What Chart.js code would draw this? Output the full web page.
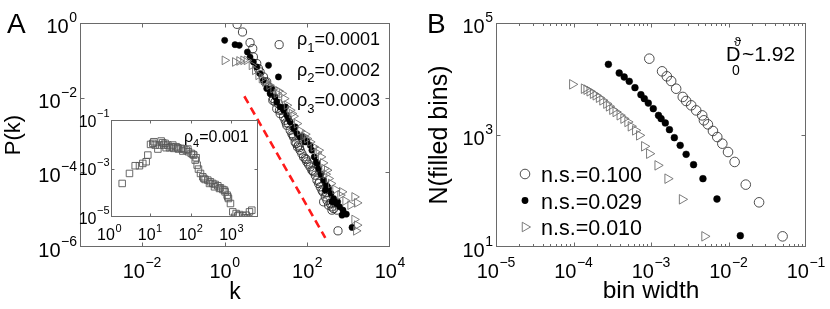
<!DOCTYPE html>
<html><head><meta charset="utf-8">
<script src="https://cdn.jsdelivr.net/npm/chart.js@4.4.1/dist/chart.umd.min.js"></script>
<style>
html,body{margin:0;padding:0;background:#fff;}
#wrap{position:relative;width:830px;height:309px;overflow:hidden;background:#fff;}
canvas{position:absolute;left:0;top:0;}
</style></head><body>
<div id="wrap">
<canvas id="cA" width="830" height="309"></canvas>
<canvas id="cI" width="830" height="309"></canvas>
<canvas id="cB" width="830" height="309"></canvas>
</div>
<script>
// ---------------- Panel A : degree distribution P(k) ----------------
const rho1K = [2, 2.7, 4.11, 4.78, 4.95, 5.97, 6.55, 7.19, 8.67, 9.51, 10.4, 11.5, 13.8, 15.1, 16.6, 18.2, 20.0, 22.0, 24.1, 26.5, 29.0, 31.9, 35.0, 38.5, 42.2, 46.3, 50.8, 53.7, 57.9, 61.2, 67.1, 73.8, 80.9, 88.9, 97.5, 107, 117, 129, 142, 156, 171, 188, 206, 226, 239, 248, 272, 299, 327, 360, 394, 434, 521, 20.8, 552, 14.6, 21.2, 30.8, 44.7, 64.7, 94.0, 136, 198, 288, 394];
const rho1P = [0.920, 0.574, 0.298, 0.206, 0.123, 0.0817, 0.0600, 0.0489, 0.0359, 0.0264, 0.0264, 0.0194, 0.0129, 0.00944, 0.00769, 0.00509, 0.00693, 0.00375, 0.00460, 0.00305, 0.00248, 0.00182, 0.00202, 0.00134, 0.00109, 8.89e-4, 6.53e-4, 5.90e-4, 4.81e-4, 5.32e-4, 3.91e-4, 3.18e-4, 2.59e-4, 2.34e-4, 1.91e-4, 1.65e-4, 1.40e-4, 1.14e-4, 1.03e-4, 8.38e-5, 6.15e-5, 5.01e-5, 4.08e-5, 3.33e-5, 3.00e-5, 1.62e-5, 2.20e-5, 1.79e-5, 1.32e-5, 1.46e-5, 9.71e-6, 1.07e-5, 9.71e-6, 0.263, 2.71e-6, 0.00851, 0.00460, 0.00211, 9.86e-4, 4.61e-4, 2.20e-4, 1.09e-4, 5.56e-5, 2.82e-5, 1.19e-5];
const rho2K = [1.0, 1.78, 2.26, 3.54, 4.11, 4.95, 11.5, 20.0, 5.97, 7.19, 8.67, 10.4, 12.6, 16.6, 18.2, 22.0, 26.5, 31.9, 35.0, 38.5, 46.3, 55.8, 67.1, 80.9, 88.9, 97.5, 117, 129, 147, 171, 188, 213, 248, 272, 288, 327, 373, 394, 434, 502, 605, 690, 730, 879, 1205, 13.8, 29.6, 50.8, 75.2, 164, 310, 542];
const rho2P = [0.344, 0.263, 0.252, 0.167, 0.123, 0.0904, 0.0736, 0.0359, 0.0664, 0.0441, 0.0292, 0.0175, 0.0129, 0.0105, 0.00769, 0.00565, 0.00460, 0.00338, 0.00275, 0.00224, 0.00149, 0.00109, 8.89e-4, 8.04e-4, 6.53e-4, 6.95e-4, 5.32e-4, 3.91e-4, 2.59e-4, 1.72e-4, 1.26e-4, 8.91e-5, 6.15e-5, 3.33e-5, 4.53e-5, 3.68e-5, 2.71e-5, 1.62e-5, 1.99e-5, 1.46e-5, 1.19e-5, 7.13e-6, 9.71e-6, 7.59e-6, 3.34e-6, 0.0175, 0.00565, 0.00165, 9.27e-4, 1.91e-4, 4.08e-5, 1.62e-5];
const rho3K = [1.0, 1.78, 2.26, 2.83, 3.41, 4.51, 5.43, 6.55, 7.89, 9.51, 12.1, 15.1, 20.0, 24.1, 27.5, 31.9, 38.5, 46.3, 55.8, 67.1, 80.9, 97.5, 117, 142, 171, 213, 239, 257, 277, 327, 373, 475, 628, 832, 1099, 1374, 1596, 1374, 1596, 1510, 18.2, 42.2, 88.9, 188, 299, 690];
const rho3P = [0.100, 0.0904, 0.0962, 0.100, 0.100, 0.0736, 0.0541, 0.0397, 0.0324, 0.0264, 0.0215, 0.0175, 0.0151, 0.0129, 0.00944, 0.00627, 0.00460, 0.00318, 0.00202, 0.00129, 9.27e-4, 8.04e-4, 6.53e-4, 4.81e-4, 3.32e-4, 2.59e-4, 1.79e-4, 1.26e-4, 8.91e-5, 6.82e-5, 5.01e-5, 3.47e-5, 2.44e-5, 1.72e-5, 1.32e-5, 2.20e-5, 1.52e-5, 5.46e-6, 3.85e-6, 2.71e-6, 0.0129, 0.00375, 0.00105, 3.91e-4, 1.14e-4, 3.00e-5];
const refK = [2.99, 272];
const refP = [0.0109, 1.76e-6];
// inset (rho4)
const rho4K = [2.07, 3.13, 4.32, 5.51, 6.65, 8.04, 8.83, 10.3, 11.7, 12.4, 13.4, 15.6, 17.1, 18.8, 20.6, 21.8, 23.5, 24.9, 27.4, 30.1, 33.0, 36.3, 38.4, 43.9, 48.2, 50.1, 58.2, 64.0, 67.6, 77.3, 84.9, 88.1, 103, 113, 119, 129, 136, 144, 155, 174, 198, 210, 226, 263, 289, 305, 349, 384, 398, 463, 509, 538, 615, 676, 701, 785, 817, 847, 948, 1081, 1306, 1436, 1578, 1905, 2094, 2301, 2529, 2780, 3170];
const rho4P = [2.42e-4, 6.25e-4, 1.30e-3, 1.30e-3, 1.62e-3, 1.90e-3, 3.58e-3, 9.86e-3, 1.09e-2, 1.27e-2, 9.27e-3, 6.34e-3, 9.27e-3, 1.36e-2, 1.16e-2, 9.27e-3, 1.09e-2, 7.19e-3, 9.27e-3, 7.19e-3, 7.91e-3, 9.27e-3, 6.75e-3, 7.91e-3, 7.19e-3, 6.34e-3, 6.75e-3, 5.24e-3, 6.34e-3, 5.75e-3, 6.34e-3, 4.91e-3, 4.20e-3, 3.81e-3, 3.58e-3, 2.22e-3, 2.78e-3, 1.38e-3, 9.44e-4, 6.25e-4, 4.55e-4, 3.89e-4, 3.53e-4, 3.32e-4, 2.42e-4, 2.83e-4, 2.42e-4, 1.76e-4, 2.20e-4, 1.94e-4, 1.50e-4, 1.60e-4, 1.36e-4, 1.28e-4, 1.09e-4, 7.96e-5, 6.79e-5, 5.79e-5, 3.60e-5, 1.63e-5, 1.39e-5, 1.11e-5, 1.26e-5, 1.11e-5, 9.20e-6, 1.19e-5, 9.20e-6, 1.63e-5, 1.91e-5];
const rhoSubs = ['1', '2', '3'];
const rhoVals = ['0.0001', '0.0002', '0.0003'];
const insetSub = '4', insetVal = '0.001';
const ticksAX = [1e-2, 1, 1e2, 1e4];
const ticksAY = [1e-6, 1e-4, 1e-2, 1];
const ticksIX = [1, 10, 100, 1000];
const ticksIY = [1e-5, 1e-3, 1e-1];

// ---------------- Panel B : box counting ----------------
const ns100W = [9.51e-4, 1.39e-3, 1.60e-3, 1.82e-3, 2.11e-3, 2.57e-3, 2.84e-3, 3.30e-3, 3.83e-3, 4.58e-3, 4.82e-3, 5.42e-3, 6.30e-3, 7.16e-3, 8.32e-3, 9.86e-3, 1.20e-2, 1.67e-2, 2.48e-2, 4.99e-2];
const ns100N = [23070, 13710, 11170, 9200, 6710, 4780, 4050, 3390, 2750, 2240, 1830, 1550, 1180, 920, 700, 497, 330, 130, 62.8, 15.5];
const ns029W = [2.82e-4, 3.89e-4, 4.51e-4, 5.24e-4, 6.21e-4, 7.41e-4, 8.20e-4, 9.23e-4, 1.07e-3, 1.25e-3, 1.35e-3, 1.53e-3, 1.73e-3, 2.00e-3, 2.38e-3, 2.84e-3, 3.54e-3, 4.68e-3, 7.10e-3, 1.42e-2];
const ns029N = [18280, 12790, 10860, 9080, 7000, 5250, 4460, 3720, 2950, 2240, 1960, 1640, 1245, 895, 653, 452, 295, 166, 71.9, 15.9];
const ns010W = [9.66e-5, 1.37e-4, 1.48e-4, 1.62e-4, 1.79e-4, 1.94e-4, 2.14e-4, 2.37e-4, 2.66e-4, 2.88e-4, 3.18e-4, 3.51e-4, 3.96e-4, 4.43e-4, 4.99e-4, 5.51e-4, 6.27e-4, 7.06e-4, 8.20e-4, 9.51e-4, 1.22e-3, 1.64e-3, 2.52e-3, 4.91e-3];
const ns010N = [8030, 6720, 6450, 6030, 5470, 5110, 4640, 4160, 3630, 3250, 2830, 2580, 2250, 1960, 1710, 1430, 1210, 986, 628, 464, 287, 166, 71, 15.5];
const nsLabels = ['n.s.=0.100', 'n.s.=0.029', 'n.s.=0.010'];
const dimLabel = '~1.92';
const ticksBX = [1e-5, 1e-4, 1e-3, 1e-2, 1e-1];
const ticksBY = [1e1, 1e3, 1e5];
const minorBX = [];
for (let e = -5; e < -1; e++) for (let m = 2; m <= 9; m++) minorBX.push(m * Math.pow(10, e));

// ---------------- helpers ----------------
const FONT = "'Liberation Sans', Arial, Helvetica, sans-serif";
const fnt = s => s + 'px ' + FONT;
const pts = (xs, ys) => xs.map((x, i) => ({x: x, y: ys[i]}));
function expStr(v) { const e = Math.round(Math.log10(v)); return e < 0 ? '\u2212' + (-e) : String(e); }
function drawPow(c, x, y, v, bs, es, raise, mode) {
  const ex = expStr(v);
  c.font = fnt(bs); const wb = c.measureText('10').width;
  c.font = fnt(es); const we = c.measureText(ex).width;
  const gap = 0.5, tot = wb + gap + we;
  const sx = mode === 'center' ? x - tot / 2 : x - tot;
  c.textAlign = 'left'; c.textBaseline = 'alphabetic';
  c.font = fnt(bs); c.fillText('10', sx, y);
  c.font = fnt(es); c.fillText(ex, sx + wb + gap, y - raise);
}
function drawSubText(c, x, y, head, sub, tail, fs, ss, drop) {
  c.textAlign = 'left'; c.textBaseline = 'alphabetic';
  c.font = fnt(fs); c.fillText(head, x, y); x += c.measureText(head).width;
  c.font = fnt(ss); c.fillText(sub, x, y + drop); x += c.measureText(sub).width;
  c.font = fnt(fs); c.fillText(tail, x, y);
}
function makeAxesPlugin(cfg) {
  return {
    id: 'axesBox',
    beforeDraw(chart) {
      if (!cfg.fill) return;
      const a = chart.chartArea, c = chart.ctx;
      c.save(); c.fillStyle = cfg.fill; c.fillRect(a.left, a.top, a.right - a.left, a.bottom - a.top); c.restore();
    },
    afterDraw(chart) {
      const c = chart.ctx, a = chart.chartArea, xs = chart.scales.x, ys = chart.scales.y;
      c.save();
      c.strokeStyle = cfg.frameColor; c.lineWidth = 1;
      const L = Math.round(a.left) + 0.5, R = Math.round(a.right) - 0.5, T = Math.round(a.top) + 0.5, B = Math.round(a.bottom) - 0.5;
      c.strokeRect(L, T, R - L, B - T);
      c.beginPath();
      const tick = (len, list, isX) => list.forEach(v => {
        if (isX) {
          const p = Math.round(xs.getPixelForValue(v)) + 0.5; if (p < L - 0.1 || p > R + 0.1) return;
          c.moveTo(p, B); c.lineTo(p, B - len); c.moveTo(p, T); c.lineTo(p, T + len);
        } else {
          const p = Math.round(ys.getPixelForValue(v)) + 0.5; if (p < T - 0.1 || p > B + 0.1) return;
          c.moveTo(L, p); c.lineTo(L + len, p); c.moveTo(R, p); c.lineTo(R - len, p);
        }
      });
      tick(cfg.majorLen, xs.ticks.map(t => t.value), true);
      tick(cfg.majorLen, ys.ticks.map(t => t.value), false);
      if (cfg.minorX) tick(cfg.minorLen, cfg.minorX, true);
      c.stroke();
      c.fillStyle = '#000';
      xs.ticks.forEach(t => drawPow(c, xs.getPixelForValue(t.value), a.bottom + cfg.xDy, t.value, cfg.bs, cfg.es, cfg.raise, 'center'));
      ys.ticks.forEach(t => drawPow(c, a.left - cfg.yGap, ys.getPixelForValue(t.value) + cfg.yDy, t.value, cfg.bs, cfg.es, cfg.yRaise, 'right'));
      if (cfg.extra) cfg.extra(c, a);
      c.restore();
    }
  };
}
function logAxis(pos, min, max, ticks, title, size, tsize, tpad) {
  const o = {
    type: 'logarithmic', position: pos, min: min, max: max, bounds: 'data',
    grid: {display: false}, border: {display: false}, ticks: {display: false},
    afterBuildTicks: s => { s.ticks = ticks.map(v => ({value: v})); },
    afterFit: s => { if (pos === 'bottom') s.height = size; else s.width = size; }
  };
  o.title = title ? {display: true, text: title, color: '#000', font: {family: FONT, size: tsize}, padding: tpad} : {display: false};
  return o;
}
function baseOptions(padding, xAxis, yAxis) {
  return {
    responsive: false, animation: false, devicePixelRatio: 1, events: [],
    layout: {autoPadding: false, padding: padding},
    plugins: {legend: {display: false}, tooltip: {enabled: false}},
    scales: {x: xAxis, y: yAxis}
  };
}
const FRAME = '#6a6a6a';

// ---------------- Chart A ----------------
new Chart(document.getElementById('cA'), {
  type: 'scatter',
  data: {datasets: [
    {data: pts(rho1K, rho1P), pointStyle: 'circle', pointRadius: 4.1, borderColor: '#303030', backgroundColor: 'rgba(0,0,0,0)', borderWidth: 0.9, order: 4},
    {data: pts(rho2K, rho2P), pointStyle: 'circle', pointRadius: 3.1, borderColor: '#000', backgroundColor: '#000', borderWidth: 0.5, order: 3},
    {data: pts(rho3K, rho3P), pointStyle: 'triangle', rotation: 90, pointRadius: 5.0, borderColor: '#707070', backgroundColor: 'rgba(0,0,0,0)', borderWidth: 0.9, order: 2},
    {data: pts(refK, refP), showLine: true, pointRadius: 0, borderColor: '#ff1a1a', borderWidth: 2.6, borderDash: [8, 5], fill: false, order: 1}
  ]},
  options: baseOptions({left: 0, right: 440, top: 23, bottom: 0},
    logAxis('bottom', Math.pow(10, -3.5), 1e4, ticksAX, 'k', 62, 23, {top: 0, bottom: 3.0}),
    logAxis('left', 1e-6, 1, ticksAY, 'P(k)', 80, 22, {top: 0.8, bottom: 0})),
  plugins: [makeAxesPlugin({
    frameColor: FRAME, majorLen: 4, bs: 20, es: 14, raise: 11, yRaise: 11, xDy: 31, yGap: 3, yDy: 10,
    extra: (c) => {
      c.fillStyle = '#000'; c.textAlign = 'left'; c.textBaseline = 'alphabetic';
      c.font = fnt(28); c.fillText('A', 7, 33);
      rhoSubs.forEach((s, i) => drawSubText(c, 297, 45 + 30.5 * i, '\u03c1', s, '=' + rhoVals[i], 18, 13, 6.5));
    }
  })]
});

// ---------------- Inset ----------------
new Chart(document.getElementById('cI'), {
  type: 'scatter',
  data: {datasets: [
    {data: pts(rho4K, rho4P), pointStyle: 'rect', pointRadius: 4.6, borderColor: '#585858', backgroundColor: 'rgba(0,0,0,0)', borderWidth: 0.9}
  ]},
  options: baseOptions({left: 111, right: 572, top: 120, bottom: 92},
    logAxis('bottom', 1.1, 4500, ticksIX, null, 0),
    logAxis('left', 1e-5, 1e-1, ticksIY, null, 0)),
  plugins: [makeAxesPlugin({
    fill: '#fff', frameColor: FRAME, majorLen: 3, bs: 16, es: 11, raise: 8.5, yRaise: 9.5, xDy: 23, yGap: 1.5, yDy: 6.5,
    extra: (c) => {
      c.fillStyle = '#000';
      drawSubText(c, 184, 142, '\u03c1', insetSub, '=' + insetVal, 16, 11, 5);
    }
  })]
});

// ---------------- Chart B ----------------
new Chart(document.getElementById('cB'), {
  type: 'scatter',
  data: {datasets: [
    {data: pts(ns100W, ns100N), pointStyle: 'circle', pointRadius: 4.8, borderColor: '#3a3a3a', backgroundColor: 'rgba(0,0,0,0)', borderWidth: 0.9, order: 3},
    {data: pts(ns029W, ns029N), pointStyle: 'circle', pointRadius: 3.4, borderColor: '#000', backgroundColor: '#000', borderWidth: 0.5, order: 2},
    {data: pts(ns010W, ns010N), pointStyle: 'triangle', rotation: 90, pointRadius: 5.5, borderColor: '#6e6e6e', backgroundColor: 'rgba(0,0,0,0)', borderWidth: 0.9, order: 1}
  ]},
  options: baseOptions({left: 420, right: 24, top: 23, bottom: 0},
    logAxis('bottom', 1e-5, 1e-1, ticksBX, 'bin width', 62, 24.5, {top: 0, bottom: 2.7}),
    logAxis('left', 1e1, 1e5, ticksBY, 'N(filled bins)', 76, 25, {top: 5.3, bottom: 0})),
  plugins: [makeAxesPlugin({
    frameColor: FRAME, majorLen: 4, minorLen: 2.5, minorX: minorBX, bs: 20, es: 14, raise: 11, yRaise: 11, xDy: 31, yGap: 3, yDy: 10,
    extra: (c) => {
      c.fillStyle = '#000'; c.textAlign = 'left'; c.textBaseline = 'alphabetic';
      c.font = fnt(28); c.fillText('B', 427, 33);
      // D_0^theta ~1.92
      c.font = fnt(20); c.fillText('D', 726, 61);
      c.font = fnt(14); c.fillText('0', 732, 75);
      c.font = fnt(13); c.fillText('\u03d1', 734, 46);
      c.font = fnt(21); c.fillText(dimLabel, 742, 61);
      // legend
      nsLabels.forEach((t, i) => {
        const my = 174 + 26.5 * i, mx = 525;
        c.beginPath();
        if (i === 0) { c.strokeStyle = '#3a3a3a'; c.lineWidth = 0.9; c.arc(mx, my, 4.8, 0, Math.PI * 2); c.stroke(); }
        else if (i === 1) { c.fillStyle = '#000'; c.arc(mx, my, 3.4, 0, Math.PI * 2); c.fill(); }
        else { const r = 5.5; c.strokeStyle = '#6e6e6e'; c.lineWidth = 0.9; c.moveTo(mx + r, my); c.lineTo(mx - r / 2, my + r * 0.866); c.lineTo(mx - r / 2, my - r * 0.866); c.closePath(); c.stroke(); }
        c.fillStyle = '#000'; c.font = fnt(21.5); c.fillText(t, 541, 182 + 26.5 * i);
      });
    }
  })]
});
</script>
</body></html>
